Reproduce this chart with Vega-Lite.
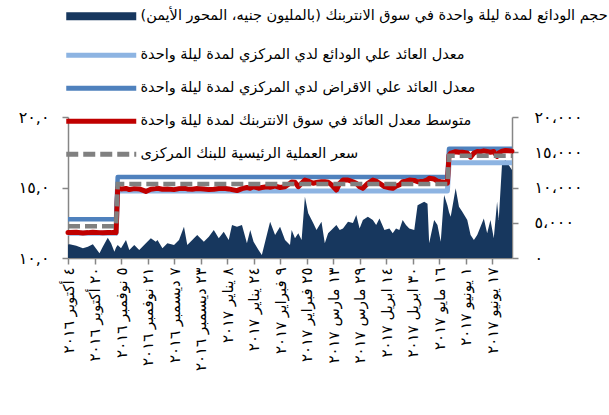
{
  "$schema": "https://vega.github.io/schema/vega-lite/v6.json",
  "width": 444,
  "height": 141,
  "autosize": {"type": "none"},
  "padding": {"left": 68, "top": 117, "right": 97, "bottom": 157},
  "config": {
    "view": {"stroke": null},
    "font": "DejaVu Sans",
    "axis": {
      "grid": false,
      "domainColor": "#868686",
      "domainWidth": 1.5,
      "tickColor": "#868686",
      "tickWidth": 1.5,
      "tickSize": 6,
      "labelColor": "#000000",
      "labelFont": "DejaVu Sans",
      "title": null
    }
  },
  "data": {
    "values": [
      {"date": "2016-10-04", "volume": 1900, "deposit": 11.75, "lending": 12.75, "main": 12.25, "interbank": 11.80},
      {"date": "2016-10-05", "volume": 1940, "deposit": 11.75, "lending": 12.75, "main": 12.25, "interbank": 11.80},
      {"date": "2016-10-09", "volume": 1750, "deposit": 11.75, "lending": 12.75, "main": 12.25, "interbank": 11.82},
      {"date": "2016-10-13", "volume": 1370, "deposit": 11.75, "lending": 12.75, "main": 12.25, "interbank": 11.78},
      {"date": "2016-10-16", "volume": 1600, "deposit": 11.75, "lending": 12.75, "main": 12.25, "interbank": 11.80},
      {"date": "2016-10-19", "volume": 1940, "deposit": 11.75, "lending": 12.75, "main": 12.25, "interbank": 11.83},
      {"date": "2016-10-23", "volume": 660, "deposit": 11.75, "lending": 12.75, "main": 12.25, "interbank": 11.80},
      {"date": "2016-10-25", "volume": 1600, "deposit": 11.75, "lending": 12.75, "main": 12.25, "interbank": 11.79},
      {"date": "2016-10-28", "volume": 2880, "deposit": 11.75, "lending": 12.75, "main": 12.25, "interbank": 11.81},
      {"date": "2016-10-30", "volume": 2080, "deposit": 11.75, "lending": 12.75, "main": 12.25, "interbank": 11.80},
      {"date": "2016-11-01", "volume": 900, "deposit": 11.75, "lending": 12.75, "main": 12.25, "interbank": 11.82},
      {"date": "2016-11-02", "volume": 1500, "deposit": 11.75, "lending": 12.75, "main": 12.25, "interbank": 11.80},
      {"date": "2016-11-03", "volume": 1840, "deposit": 14.75, "lending": 15.75, "main": 15.25, "interbank": 14.95},
      {"date": "2016-11-05", "volume": 1370, "deposit": 14.75, "lending": 15.75, "main": 15.25, "interbank": 14.90},
      {"date": "2016-11-08", "volume": 2550, "deposit": 14.75, "lending": 15.75, "main": 15.25, "interbank": 14.93},
      {"date": "2016-11-10", "volume": 1130, "deposit": 14.75, "lending": 15.75, "main": 15.25, "interbank": 14.85},
      {"date": "2016-11-13", "volume": 1840, "deposit": 14.75, "lending": 15.75, "main": 15.25, "interbank": 14.92},
      {"date": "2016-11-16", "volume": 1130, "deposit": 14.75, "lending": 15.75, "main": 15.25, "interbank": 14.90},
      {"date": "2016-11-20", "volume": 2080, "deposit": 14.75, "lending": 15.75, "main": 15.25, "interbank": 14.72},
      {"date": "2016-11-23", "volume": 2800, "deposit": 14.75, "lending": 15.75, "main": 15.25, "interbank": 14.88},
      {"date": "2016-11-26", "volume": 2300, "deposit": 14.75, "lending": 15.75, "main": 15.25, "interbank": 14.92},
      {"date": "2016-11-27", "volume": 2550, "deposit": 14.75, "lending": 15.75, "main": 15.25, "interbank": 14.95},
      {"date": "2016-11-30", "volume": 1370, "deposit": 14.75, "lending": 15.75, "main": 15.25, "interbank": 14.88},
      {"date": "2016-12-03", "volume": 2080, "deposit": 14.75, "lending": 15.75, "main": 15.25, "interbank": 14.90},
      {"date": "2016-12-07", "volume": 1840, "deposit": 14.75, "lending": 15.75, "main": 15.25, "interbank": 14.85},
      {"date": "2016-12-10", "volume": 2550, "deposit": 14.75, "lending": 15.75, "main": 15.25, "interbank": 14.92},
      {"date": "2016-12-13", "volume": 4440, "deposit": 14.75, "lending": 15.75, "main": 15.25, "interbank": 14.95},
      {"date": "2016-12-15", "volume": 1840, "deposit": 14.75, "lending": 15.75, "main": 15.25, "interbank": 14.90},
      {"date": "2016-12-18", "volume": 2550, "deposit": 14.75, "lending": 15.75, "main": 15.25, "interbank": 14.88},
      {"date": "2016-12-21", "volume": 3260, "deposit": 14.75, "lending": 15.75, "main": 15.25, "interbank": 14.93},
      {"date": "2016-12-25", "volume": 2300, "deposit": 14.75, "lending": 15.75, "main": 15.25, "interbank": 14.90},
      {"date": "2016-12-28", "volume": 3020, "deposit": 14.75, "lending": 15.75, "main": 15.25, "interbank": 14.85},
      {"date": "2016-12-31", "volume": 3970, "deposit": 14.75, "lending": 15.75, "main": 15.25, "interbank": 14.88},
      {"date": "2017-01-03", "volume": 2800, "deposit": 14.75, "lending": 15.75, "main": 15.25, "interbank": 14.93},
      {"date": "2017-01-06", "volume": 3730, "deposit": 14.75, "lending": 15.75, "main": 15.25, "interbank": 14.95},
      {"date": "2017-01-09", "volume": 2550, "deposit": 14.75, "lending": 15.75, "main": 15.25, "interbank": 14.90},
      {"date": "2017-01-11", "volume": 4680, "deposit": 14.75, "lending": 15.75, "main": 15.25, "interbank": 14.85},
      {"date": "2017-01-14", "volume": 4440, "deposit": 14.75, "lending": 15.75, "main": 15.25, "interbank": 14.78},
      {"date": "2017-01-17", "volume": 4680, "deposit": 14.75, "lending": 15.75, "main": 15.25, "interbank": 14.92},
      {"date": "2017-01-20", "volume": 2080, "deposit": 14.75, "lending": 15.75, "main": 15.25, "interbank": 15.00},
      {"date": "2017-01-22", "volume": 3970, "deposit": 14.75, "lending": 15.75, "main": 15.25, "interbank": 14.95},
      {"date": "2017-01-24", "volume": 2300, "deposit": 14.75, "lending": 15.75, "main": 15.25, "interbank": 15.05},
      {"date": "2017-01-27", "volume": 1130, "deposit": 14.75, "lending": 15.75, "main": 15.25, "interbank": 14.95},
      {"date": "2017-01-29", "volume": 425, "deposit": 14.75, "lending": 15.75, "main": 15.25, "interbank": 15.00},
      {"date": "2017-02-01", "volume": 3260, "deposit": 14.75, "lending": 15.75, "main": 15.25, "interbank": 15.05},
      {"date": "2017-02-03", "volume": 5150, "deposit": 14.75, "lending": 15.75, "main": 15.25, "interbank": 15.02},
      {"date": "2017-02-06", "volume": 3260, "deposit": 14.75, "lending": 15.75, "main": 15.25, "interbank": 15.10},
      {"date": "2017-02-09", "volume": 4440, "deposit": 14.75, "lending": 15.75, "main": 15.25, "interbank": 15.00},
      {"date": "2017-02-12", "volume": 2550, "deposit": 14.75, "lending": 15.75, "main": 15.25, "interbank": 15.05},
      {"date": "2017-02-15", "volume": 1840, "deposit": 14.75, "lending": 15.75, "main": 15.25, "interbank": 15.30},
      {"date": "2017-02-16", "volume": 3970, "deposit": 14.75, "lending": 15.75, "main": 15.25, "interbank": 15.39},
      {"date": "2017-02-18", "volume": 2800, "deposit": 14.75, "lending": 15.75, "main": 15.25, "interbank": 15.38},
      {"date": "2017-02-20", "volume": 3500, "deposit": 14.75, "lending": 15.75, "main": 15.25, "interbank": 15.06},
      {"date": "2017-02-22", "volume": 2550, "deposit": 14.75, "lending": 15.75, "main": 15.25, "interbank": 15.30},
      {"date": "2017-02-24", "volume": 8700, "deposit": 14.75, "lending": 15.75, "main": 15.25, "interbank": 15.53},
      {"date": "2017-02-26", "volume": 6340, "deposit": 14.75, "lending": 15.75, "main": 15.25, "interbank": 15.45},
      {"date": "2017-03-01", "volume": 4960, "deposit": 14.75, "lending": 15.75, "main": 15.25, "interbank": 15.30},
      {"date": "2017-03-03", "volume": 3970, "deposit": 14.75, "lending": 15.75, "main": 15.25, "interbank": 15.35},
      {"date": "2017-03-06", "volume": 5150, "deposit": 14.75, "lending": 15.75, "main": 15.25, "interbank": 15.41},
      {"date": "2017-03-08", "volume": 2080, "deposit": 14.75, "lending": 15.75, "main": 15.25, "interbank": 15.41},
      {"date": "2017-03-10", "volume": 3500, "deposit": 14.75, "lending": 15.75, "main": 15.25, "interbank": 15.38},
      {"date": "2017-03-12", "volume": 3970, "deposit": 14.75, "lending": 15.75, "main": 15.25, "interbank": 15.20},
      {"date": "2017-03-15", "volume": 4680, "deposit": 14.75, "lending": 15.75, "main": 15.25, "interbank": 14.82},
      {"date": "2017-03-17", "volume": 3970, "deposit": 14.75, "lending": 15.75, "main": 15.25, "interbank": 15.30},
      {"date": "2017-03-19", "volume": 4200, "deposit": 14.75, "lending": 15.75, "main": 15.25, "interbank": 15.53},
      {"date": "2017-03-22", "volume": 5150, "deposit": 14.75, "lending": 15.75, "main": 15.25, "interbank": 15.53},
      {"date": "2017-03-25", "volume": 4960, "deposit": 14.75, "lending": 15.75, "main": 15.25, "interbank": 15.40},
      {"date": "2017-03-27", "volume": 6100, "deposit": 14.75, "lending": 15.75, "main": 15.25, "interbank": 15.30},
      {"date": "2017-03-29", "volume": 4200, "deposit": 14.75, "lending": 15.75, "main": 15.25, "interbank": 15.05},
      {"date": "2017-03-31", "volume": 5390, "deposit": 14.75, "lending": 15.75, "main": 15.25, "interbank": 14.94},
      {"date": "2017-04-03", "volume": 5860, "deposit": 14.75, "lending": 15.75, "main": 15.25, "interbank": 15.30},
      {"date": "2017-04-06", "volume": 5390, "deposit": 14.75, "lending": 15.75, "main": 15.25, "interbank": 15.53},
      {"date": "2017-04-08", "volume": 4680, "deposit": 14.75, "lending": 15.75, "main": 15.25, "interbank": 15.45},
      {"date": "2017-04-10", "volume": 5620, "deposit": 14.75, "lending": 15.75, "main": 15.25, "interbank": 15.30},
      {"date": "2017-04-13", "volume": 3970, "deposit": 14.75, "lending": 15.75, "main": 15.25, "interbank": 15.06},
      {"date": "2017-04-16", "volume": 4200, "deposit": 14.75, "lending": 15.75, "main": 15.25, "interbank": 14.98},
      {"date": "2017-04-18", "volume": 3500, "deposit": 14.75, "lending": 15.75, "main": 15.25, "interbank": 14.94},
      {"date": "2017-04-20", "volume": 4200, "deposit": 14.75, "lending": 15.75, "main": 15.25, "interbank": 15.10},
      {"date": "2017-04-22", "volume": 3970, "deposit": 14.75, "lending": 15.75, "main": 15.25, "interbank": 15.18},
      {"date": "2017-04-24", "volume": 5390, "deposit": 14.75, "lending": 15.75, "main": 15.25, "interbank": 15.41},
      {"date": "2017-04-26", "volume": 4680, "deposit": 14.75, "lending": 15.75, "main": 15.25, "interbank": 15.45},
      {"date": "2017-04-28", "volume": 4200, "deposit": 14.75, "lending": 15.75, "main": 15.25, "interbank": 15.53},
      {"date": "2017-05-01", "volume": 3970, "deposit": 14.75, "lending": 15.75, "main": 15.25, "interbank": 15.50},
      {"date": "2017-05-03", "volume": 7500, "deposit": 14.75, "lending": 15.75, "main": 15.25, "interbank": 15.41},
      {"date": "2017-05-07", "volume": 7980, "deposit": 14.75, "lending": 15.75, "main": 15.25, "interbank": 15.45},
      {"date": "2017-05-09", "volume": 7700, "deposit": 14.75, "lending": 15.75, "main": 15.25, "interbank": 15.55},
      {"date": "2017-05-10", "volume": 2080, "deposit": 14.75, "lending": 15.75, "main": 15.25, "interbank": 15.65},
      {"date": "2017-05-13", "volume": 5390, "deposit": 14.75, "lending": 15.75, "main": 15.25, "interbank": 15.60},
      {"date": "2017-05-15", "volume": 4680, "deposit": 14.75, "lending": 15.75, "main": 15.25, "interbank": 15.45},
      {"date": "2017-05-17", "volume": 2300, "deposit": 14.75, "lending": 15.75, "main": 15.25, "interbank": 15.41},
      {"date": "2017-05-19", "volume": 8930, "deposit": 14.75, "lending": 15.75, "main": 15.25, "interbank": 15.38},
      {"date": "2017-05-21", "volume": 7500, "deposit": 14.75, "lending": 15.75, "main": 15.25, "interbank": 15.30},
      {"date": "2017-05-22", "volume": 6500, "deposit": 16.75, "lending": 17.75, "main": 17.25, "interbank": 17.30},
      {"date": "2017-05-23", "volume": 5860, "deposit": 16.75, "lending": 17.75, "main": 17.25, "interbank": 17.43},
      {"date": "2017-05-26", "volume": 9880, "deposit": 16.75, "lending": 17.75, "main": 17.25, "interbank": 17.54},
      {"date": "2017-05-28", "volume": 7270, "deposit": 16.75, "lending": 17.75, "main": 17.25, "interbank": 17.50},
      {"date": "2017-05-30", "volume": 6570, "deposit": 16.75, "lending": 17.75, "main": 17.25, "interbank": 17.50},
      {"date": "2017-06-02", "volume": 5390, "deposit": 16.75, "lending": 17.75, "main": 17.25, "interbank": 17.45},
      {"date": "2017-06-04", "volume": 3260, "deposit": 16.75, "lending": 17.75, "main": 17.25, "interbank": 17.15},
      {"date": "2017-06-06", "volume": 2550, "deposit": 16.75, "lending": 17.75, "main": 17.25, "interbank": 17.45},
      {"date": "2017-06-08", "volume": 3260, "deposit": 16.75, "lending": 17.75, "main": 17.25, "interbank": 17.55},
      {"date": "2017-06-10", "volume": 4440, "deposit": 16.75, "lending": 17.75, "main": 17.25, "interbank": 17.54},
      {"date": "2017-06-12", "volume": 5620, "deposit": 16.75, "lending": 17.75, "main": 17.25, "interbank": 17.60},
      {"date": "2017-06-14", "volume": 3500, "deposit": 16.75, "lending": 17.75, "main": 17.25, "interbank": 17.55},
      {"date": "2017-06-16", "volume": 5390, "deposit": 16.75, "lending": 17.75, "main": 17.25, "interbank": 17.50},
      {"date": "2017-06-18", "volume": 2800, "deposit": 16.75, "lending": 17.75, "main": 17.25, "interbank": 17.55},
      {"date": "2017-06-20", "volume": 7980, "deposit": 16.75, "lending": 17.75, "main": 17.25, "interbank": 17.20},
      {"date": "2017-06-21", "volume": 5400, "deposit": 16.75, "lending": 17.75, "main": 17.25, "interbank": 17.45},
      {"date": "2017-06-23", "volume": 13400, "deposit": 16.75, "lending": 17.75, "main": 17.25, "interbank": 17.58},
      {"date": "2017-06-25", "volume": 13900, "deposit": 16.75, "lending": 17.75, "main": 17.25, "interbank": 17.62},
      {"date": "2017-06-27", "volume": 13200, "deposit": 16.75, "lending": 17.75, "main": 17.25, "interbank": 17.60},
      {"date": "2017-06-29", "volume": 12500, "deposit": 16.75, "lending": 17.75, "main": 17.25, "interbank": 17.58}
    ]
  },
  "encoding": {
    "x": {
      "field": "date",
      "type": "temporal",
      "scale": {
        "type": "utc",
        "domain": [
          {"year": 2016, "month": 10, "date": 4, "utc": true},
          {"year": 2017, "month": 6, "date": 29, "utc": true}
        ]
      },
      "axis": {
        "values": [
          {"year": 2016, "month": 10, "date": 4, "utc": true},
          {"year": 2016, "month": 10, "date": 20, "utc": true},
          {"year": 2016, "month": 11, "date": 5, "utc": true},
          {"year": 2016, "month": 11, "date": 21, "utc": true},
          {"year": 2016, "month": 12, "date": 7, "utc": true},
          {"year": 2016, "month": 12, "date": 23, "utc": true},
          {"year": 2017, "month": 1, "date": 8, "utc": true},
          {"year": 2017, "month": 1, "date": 24, "utc": true},
          {"year": 2017, "month": 2, "date": 9, "utc": true},
          {"year": 2017, "month": 2, "date": 25, "utc": true},
          {"year": 2017, "month": 3, "date": 13, "utc": true},
          {"year": 2017, "month": 3, "date": 29, "utc": true},
          {"year": 2017, "month": 4, "date": 14, "utc": true},
          {"year": 2017, "month": 4, "date": 30, "utc": true},
          {"year": 2017, "month": 5, "date": 16, "utc": true},
          {"year": 2017, "month": 6, "date": 1, "utc": true},
          {"year": 2017, "month": 6, "date": 17, "utc": true}
        ],
        "labelAngle": -90,
        "labelFontSize": 15,
        "labelPadding": 3,
        "labelOverlap": false,
        "labelExpr": "(utcdate(datum.value) < 10 ? ['٠','١','٢','٣','٤','٥','٦','٧','٨','٩'][utcdate(datum.value)] : ['٠','١','٢','٣','٤','٥','٦','٧','٨','٩'][floor(utcdate(datum.value) / 10)] + ['٠','١','٢','٣','٤','٥','٦','٧','٨','٩'][utcdate(datum.value) % 10]) + ' ' + ['يناير','فبراير','مارس','ابريل','مايو','يونيو','يوليو','أغسطس','سبتمبر','أكتوبر','نوفمبر','ديسمبر'][utcmonth(datum.value)] + ' ' + (utcyear(datum.value) == 2016 ? '٢٠١٦' : '٢٠١٧')"
      }
    }
  },
  "layer": [
    {
      "mark": {"type": "area", "interpolate": "linear"},
      "encoding": {
        "y": {
          "field": "volume",
          "type": "quantitative",
          "scale": {"domain": [0, 20000], "nice": false},
          "axis": {
            "orient": "right",
            "values": [0, 5000, 10000, 15000, 20000],
            "labelFontSize": 16,
            "labelPadding": 16,
            "labelExpr": "datum.value == 0 ? '٠' : (datum.value >= 10000 ? ['٠','١','٢','٣','٤','٥','٦','٧','٨','٩'][floor(datum.value / 10000)] : '') + ['٠','١','٢','٣','٤','٥','٦','٧','٨','٩'][floor(datum.value / 1000) % 10] + '،٠٠٠'"
          }
        },
        "color": {
          "datum": "حجم الودائع لمدة ليلة واحدة في سوق الانتربنك (بالمليون جنيه، المحور الأيمن)",
          "scale": {
            "domain": [
              "حجم الودائع لمدة ليلة واحدة في سوق الانتربنك (بالمليون جنيه، المحور الأيمن)",
              "معدل العائد علي الودائع لدي المركزي لمدة ليلة واحدة",
              "معدل العائد علي الاقراض لدي المركزي لمدة ليلة واحدة",
              "متوسط معدل العائد في سوق الانتربنك لمدة ليلة واحدة",
              "سعر العملية الرئيسية للبنك المركزى"
            ],
            "range": ["#17375E", "#8DB4E2", "#4F81BD", "#C00000", "#808080"]
          },
          "legend": {
            "orient": "none",
            "legendX": 26,
            "legendY": -108,
            "title": null,
            "padding": 0,
            "symbolType": "stroke",
            "symbolSize": 4900,
            "symbolStrokeWidth": 5,
            "labelFont": "DejaVu Sans",
            "labelFontSize": 14.5,
            "labelColor": "#000000",
            "labelLimit": 600,
            "labelOffset": 32,
            "rowPadding": 12,
            "encode": {
              "symbols": {
                "update": {
                  "fill": {"value": "transparent"},
                  "stroke": {"scale": "color", "field": "value"},
                  "strokeWidth": {"signal": "datum.value == 'حجم الودائع لمدة ليلة واحدة في سوق الانتربنك (بالمليون جنيه، المحور الأيمن)' ? 8 : 5"},
                  "strokeDash": {"signal": "datum.value == 'سعر العملية الرئيسية للبنك المركزى' ? [12, 5] : [1, 0]"},
                  "opacity": {"value": 1}
                }
              }
            }
          }
        }
      }
    },
    {
      "encoding": {
        "y": {
          "type": "quantitative",
          "scale": {"domain": [10, 20], "nice": false},
          "axis": {
            "orient": "left",
            "values": [10, 15, 20],
            "labelFontSize": 16,
            "labelPadding": 13,
            "labelExpr": "['٠','١','٢','٣','٤','٥','٦','٧','٨','٩'][floor(datum.value / 10)] + ['٠','١','٢','٣','٤','٥','٦','٧','٨','٩'][datum.value % 10] + ',٠'"
          }
        }
      },
      "layer": [
        {
          "mark": {"type": "line", "strokeWidth": 5, "strokeJoin": "round"},
          "encoding": {
            "y": {"field": "deposit"},
            "color": {"datum": "معدل العائد علي الودائع لدي المركزي لمدة ليلة واحدة"}
          }
        },
        {
          "mark": {"type": "line", "strokeWidth": 4.5, "strokeJoin": "round"},
          "encoding": {
            "y": {"field": "lending"},
            "color": {"datum": "معدل العائد علي الاقراض لدي المركزي لمدة ليلة واحدة"}
          }
        },
        {
          "mark": {"type": "line", "strokeWidth": 5, "strokeJoin": "round", "strokeCap": "round"},
          "encoding": {
            "y": {"field": "interbank"},
            "color": {"datum": "متوسط معدل العائد في سوق الانتربنك لمدة ليلة واحدة"}
          }
        },
        {
          "mark": {"type": "line", "strokeWidth": 4.5, "strokeDash": [12, 5]},
          "encoding": {
            "y": {"field": "main"},
            "color": {"datum": "سعر العملية الرئيسية للبنك المركزى"}
          }
        }
      ]
    }
  ],
  "resolve": {"scale": {"y": "independent"}}
}
